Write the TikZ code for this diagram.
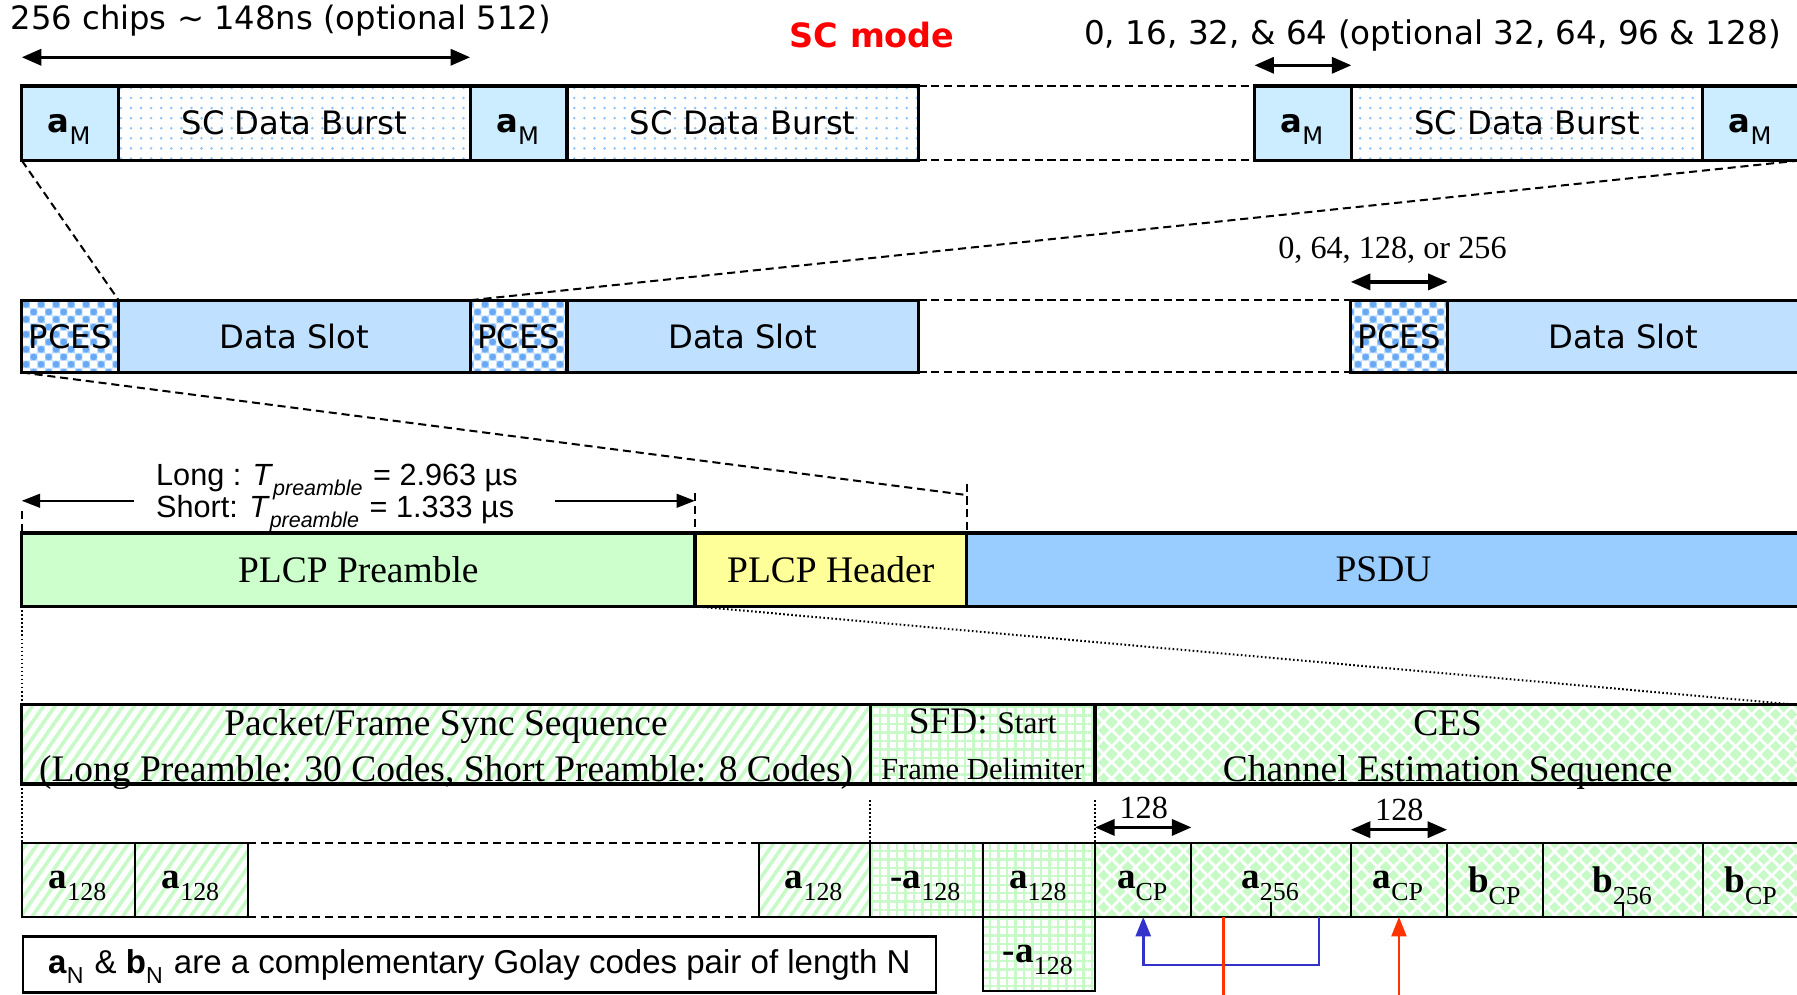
\documentclass[tikz,border=0pt]{standalone}
\usepackage{fontspec}
\setmainfont{Liberation Serif}
\setsansfont{DejaVu Sans}
\newfontfamily\arialfont{Liberation Sans}
\usetikzlibrary{positioning,calc,arrows.meta,patterns,patterns.meta}

\definecolor{amblue}{RGB}{204,236,255}
\definecolor{dotblue}{RGB}{140,195,250}
\definecolor{slotblue}{RGB}{192,224,255}
\definecolor{pcesblue}{RGB}{170,212,255}
\definecolor{pcesdark}{RGB}{105,168,242}
\definecolor{pregreen}{RGB}{204,255,204}
\definecolor{hdryellow}{RGB}{255,255,153}
\definecolor{psdublue}{RGB}{153,204,255}
\definecolor{codegreen}{RGB}{200,250,200}
\definecolor{linkblue}{RGB}{51,51,204}
\definecolor{linkred}{RGB}{255,51,0}

% lowered index as used in the code names
\newcommand{\idx}[1]{\smash{\raisebox{-0.18em}{\textsubscript{#1}}}}

% bubbles on a checker board for the pilot sequences
\pgfdeclarepatterninherentlycolored{pcesbubbles}{\pgfpointorigin}{\pgfqpoint{3.8pt}{3.8pt}}{\pgfqpoint{3.8pt}{3.8pt}}{%
  \pgfsetfillcolor{pcesblue}%
  \pgfpathrectangle{\pgfpointorigin}{\pgfqpoint{3.8pt}{3.8pt}}\pgfusepath{fill}%
  \pgfsetfillcolor{white}%
  \pgfpathrectangle{\pgfpointorigin}{\pgfqpoint{1.9pt}{1.9pt}}%
  \pgfpathrectangle{\pgfqpoint{1.9pt}{1.9pt}}{\pgfqpoint{1.9pt}{1.9pt}}\pgfusepath{fill}%
  \pgfsetfillcolor{pcesdark}%
  \pgfpathcircle{\pgfqpoint{0.95pt}{2.85pt}}{0.85pt}%
  \pgfpathcircle{\pgfqpoint{2.85pt}{0.95pt}}{0.85pt}\pgfusepath{fill}%
}

% diamonds for the channel estimation part
\newcommand{\cesdiamond}[2]{%
  \pgfpathmoveto{\pgfpoint{#1-1.45pt}{#2}}%
  \pgfpathlineto{\pgfpoint{#1}{#2+1.45pt}}%
  \pgfpathlineto{\pgfpoint{#1+1.45pt}{#2}}%
  \pgfpathlineto{\pgfpoint{#1}{#2-1.45pt}}%
  \pgfpathclose}
\pgfdeclarepatterninherentlycolored{cesdiamonds}{\pgfpointorigin}{\pgfqpoint{4pt}{4pt}}{\pgfqpoint{4pt}{4pt}}{%
  \pgfsetfillcolor{white}%
  \pgfpathrectangle{\pgfpointorigin}{\pgfqpoint{4pt}{4pt}}\pgfusepath{fill}%
  \pgfsetfillcolor{codegreen}%
  \cesdiamond{2pt}{2pt}\cesdiamond{0pt}{0pt}\cesdiamond{4pt}{0pt}%
  \cesdiamond{0pt}{4pt}\cesdiamond{4pt}{4pt}\pgfusepath{fill}%
}

\begin{document}
\begin{tikzpicture}[x=0.01cm, y=-0.01cm]
    \tikzstyle{cell} = [rectangle, draw, line width=0.8pt, inner sep=0pt, outer sep=0pt]
    \tikzstyle{am} = [cell, fill=amblue, minimum width=0.845cm, minimum height=0.65cm, font=\sffamily\fontsize{8}{9.6}\selectfont]
    \tikzstyle{burst} = [cell, pattern={Dots[distance=2.5pt, radius=0.35pt]}, pattern color=dotblue, minimum width=3.065cm, minimum height=0.65cm, font=\sffamily\fontsize{8}{9.6}\selectfont]
    \tikzstyle{pces} = [cell, pattern=pcesbubbles, minimum width=0.845cm, minimum height=0.63cm, font=\sffamily\fontsize{8}{9.6}\selectfont]
    \tikzstyle{slot} = [cell, fill=slotblue, minimum width=3.065cm, minimum height=0.63cm, font=\sffamily\fontsize{8}{9.6}\selectfont]
    \tikzstyle{field} = [cell, minimum height=0.64cm, font=\fontsize{9.3}{11.2}\selectfont]
    \tikzstyle{part} = [cell, minimum height=0.69cm, align=center, font=\fontsize{9.3}{11.4}\selectfont]
    \tikzstyle{twoline} = [text height=18.9pt, text depth=0.7pt]
    \tikzstyle{codecell} = [rectangle, draw, line width=0.5pt, inner sep=0pt, outer sep=0pt, minimum height=0.64cm, font=\fontsize{9.2}{11}\selectfont]
    \tikzstyle{stripes} = [pattern={Lines[angle=55, distance=2.3pt, line width=0.9pt]}, pattern color=codegreen]
    \tikzstyle{squares} = [pattern={Hatch[angle=0, distance=2.1pt, line width=0.6pt]}, pattern color=codegreen]
    \tikzstyle{diamonds} = [pattern=cesdiamonds]
    \tikzstyle{legend} = [rectangle, draw, line width=0.6pt, inner sep=0pt, minimum width=7.96cm, minimum height=0.49cm, font=\arialfont\fontsize{8.2}{10}\selectfont]
    \tikzstyle{darrow} = [line width=0.8pt, {Triangle[length=0.17cm, width=0.14cm]}-{Triangle[length=0.17cm, width=0.14cm]}]
    \tikzstyle{tarrow} = [line width=0.5pt, -{Triangle[length=0.16cm, width=0.12cm]}]
    \tikzstyle{gapline} = [line width=0.5pt, dash pattern=on 2pt off 1.2pt]
    \tikzstyle{dotline} = [line width=0.5pt, dash pattern=on 0.4pt off 0.6pt]
    \tikzstyle{fbarrow} = [linkblue, line width=0.7pt, -{Triangle[length=0.17cm, width=0.13cm]}]
    \tikzstyle{redline} = [linkred, line width=0.6pt]
    \tikzstyle{redarrow} = [redline, -{Triangle[length=0.17cm, width=0.13cm]}]

    \useasboundingbox (0,0) rectangle (1568,868);
    \clip (0,0) rectangle (1568,868);

    % SC mode bursts
    \node [am, anchor=north west] (am1) at (19,75) {\textbf{a}\idx{M}};
    \node [burst, right=0pt of am1] (burst1) {SC Data Burst};
    \node [am, right=0pt of burst1] (am2) {\textbf{a}\idx{M}};
    \node [burst, right=0pt of am2] (burst2) {SC Data Burst};
    \node [am, right=2.93cm of burst2] (am3) {\textbf{a}\idx{M}};
    \node [burst, right=0pt of am3] (burst3) {SC Data Burst};
    \node [am, right=0pt of burst3] (am4) {\textbf{a}\idx{M}};

    \node [font=\sffamily\fontsize{8}{9.6}\selectfont] (chips) at (245,18) {256 chips \textasciitilde{} 148ns (optional 512)};
    \node [text=red, font=\sffamily\bfseries\fontsize{8.3}{10}\selectfont] (mode) at (761,31) {SC mode};
    \node [font=\sffamily\fontsize{8.1}{9.6}\selectfont] (guard) at (1250,31) {0, 16, 32, \& 64 (optional 32, 64, 96 \& 128)};
    \draw [darrow] ([yshift=0.25cm]am1.north west) -- ([yshift=0.25cm]burst1.north east);
    \draw [darrow] ([yshift=0.18cm]am3.north west) -- ([yshift=0.18cm]am3.north east);
    \draw [gapline] (burst2.north east) -- (am3.north west);
    \draw [gapline] (burst2.south east) -- (am3.south west);

    % data slots
    \node [pces, anchor=north west] (pces1) at (19,262) {PCES};
    \node [slot, right=0pt of pces1] (slot1) {Data Slot};
    \node [pces, right=0pt of slot1] (pces2) {PCES};
    \node [slot, right=0pt of pces2] (slot2) {Data Slot};
    \node [pces, right=3.77cm of slot2] (pces3) {PCES};
    \node [slot, right=0pt of pces3] (slot3) {Data Slot};

    \node [font=\fontsize{8}{9.6}\selectfont] (slotguard) at (1215,218) {0, 64, 128, or 256};
    \draw [darrow] ([yshift=0.16cm]pces3.north west) -- ([yshift=0.16cm]pces3.north east);
    \draw [gapline] (slot2.north east) -- (pces3.north west);
    \draw [gapline] (slot2.south east) -- (pces3.south west);
    \draw [gapline] (am1.south west) -- (slot1.north west);
    \draw [gapline] (am4.south east) -- (pces2.north west);

    % PLCP frame
    \node [field, fill=pregreen, minimum width=5.87cm, anchor=north west] (preamble) at (19,465) {PLCP Preamble};
    \node [field, fill=hdryellow, minimum width=2.37cm, right=0pt of preamble] (header) {PLCP Header};
    \node [field, fill=psdublue, minimum width=7.27cm, right=0pt of header] (psdu) {PSDU};

    \coordinate (hdrtop) at ([yshift=0.33cm]psdu.north west);
    \draw [gapline] (pces1.south west) -- (hdrtop);
    \draw [gapline] ([yshift=0.1cm]hdrtop) -- (psdu.north west);

    \node [align=left, font=\arialfont\fontsize{7.6}{8}\selectfont] (tpre) at (294,431)
        {Long : \textit{T}\idx{\textit{preamble}} = 2.963 µs\\Short: \textit{T}\idx{\textit{preamble}} = 1.333 µs};
    \coordinate (pl) at ([yshift=0.28cm]preamble.north west);
    \coordinate (pr) at ([yshift=0.28cm]header.north west);
    \draw [tarrow] ([xshift=0.98cm]pl) -- (pl);
    \draw [tarrow] ([xshift=-1.22cm]pr) -- (pr);
    \draw [gapline] ([yshift=0.19cm]preamble.north west) -- (preamble.north west);
    \draw [gapline] ([yshift=0.35cm]header.north west) -- (header.north west);

    % preamble structure
    \node [part, twoline, stripes, minimum width=7.40cm, anchor=north west] (sync) at (19,615)
        {Packet/Frame Sync Sequence\\(Long Preamble: 30 Codes, Short Preamble: 8 Codes)};
    \node [part, squares, minimum width=1.96cm, right=0pt of sync] (sfd)
        {{\fontsize{9.3}{11.2}\selectfont SFD:} {\fontsize{7.8}{9.4}\selectfont Start}\\{\fontsize{7.6}{9.4}\selectfont Frame Delimiter}};
    \node [part, twoline, diamonds, minimum width=6.15cm, right=0pt of sfd] (ces)
        {CES\\Channel Estimation Sequence};

    \coordinate (cesend) at (1568,615);
    \draw [dotline] (header.south west) -- (cesend);
    \draw [dotline] (preamble.south west) -- (sync.north west);

    % code sequence
    \node [codecell, stripes, minimum width=0.99cm, anchor=north west] (c1) at (19,736) {\textbf{a}\idx{128}};
    \node [codecell, stripes, minimum width=0.98cm, right=0pt of c1] (c2) {\textbf{a}\idx{128}};
    \node [codecell, stripes, minimum width=0.97cm, right=4.46cm of c2] (c3) {\textbf{a}\idx{128}};
    \node [codecell, squares, minimum width=0.98cm, right=0pt of c3] (g1) {\textbf{-a}\idx{128}};
    \node [codecell, squares, minimum width=0.98cm, right=0pt of g1] (g2) {\textbf{a}\idx{128}};
    \node [codecell, squares, minimum width=0.98cm, minimum height=0.65cm, below=0pt of g2] (g3) {\textbf{-a}\idx{128}};
    \node [codecell, diamonds, minimum width=0.84cm, right=0pt of g2] (cp1) {\textbf{a}\idx{CP}};
    \node [codecell, diamonds, minimum width=1.39cm, right=0pt of cp1] (a256) {\textbf{a}\idx{256}};
    \node [codecell, diamonds, minimum width=0.84cm, right=0pt of a256] (cp2) {\textbf{a}\idx{CP}};
    \node [codecell, diamonds, minimum width=0.84cm, right=0pt of cp2] (cp3) {\textbf{b}\idx{CP}};
    \node [codecell, diamonds, minimum width=1.39cm, right=0pt of cp3] (b256) {\textbf{b}\idx{256}};
    \node [codecell, diamonds, minimum width=0.85cm, right=0pt of b256] (cp4) {\textbf{b}\idx{CP}};

    \draw [gapline] (c2.north east) -- (c3.north west);
    \draw [gapline] (c2.south east) -- (c3.south west);
    \draw [dotline] (sync.south west) -- (c1.north west);
    \draw [dotline] ([yshift=0.38cm]g1.north west) -- (g1.north west);
    \draw [dotline] ([yshift=0.38cm]cp1.north west) -- (cp1.north west);
    \draw [line width=0.5pt] ([yshift=0.13cm]a256.south) -- (a256.south);
    \draw [line width=0.5pt] ([yshift=0.13cm]b256.south) -- (b256.south);

    \node [font=\fontsize{8}{9.6}\selectfont] (len1) at (998,705) {128};
    \node [font=\fontsize{8}{9.6}\selectfont] (len2) at (1221,707) {128};
    \draw [darrow] ([yshift=0.14cm]cp1.north west) -- ([yshift=0.14cm]cp1.north east);
    \draw [darrow] ([yshift=0.12cm]cp2.north west) -- ([yshift=0.12cm]cp2.north east);

    % cyclic prefix copies
    \coordinate (fb) at ($(a256.south west)!0.8!(a256.south east)$);
    \draw [fbarrow] (fb) -- ++(0,42) -| (cp1.south);
    \coordinate (rd) at ($(a256.south west)!0.2!(a256.south east)$);
    \coordinate (rdout) at ([yshift=-0.8cm]rd);
    \draw [redline] (rd) -- (rdout);
    \coordinate (rdin) at ([yshift=-0.8cm]cp2.south);
    \draw [redarrow] (rdin) -- (cp2.south);

    \node [legend, anchor=north west] (legend) at (19,816)
        {\textbf{a}\idx{N} \& \textbf{b}\idx{N} are a complementary Golay codes pair of length N};
\end{tikzpicture}
\end{document}
